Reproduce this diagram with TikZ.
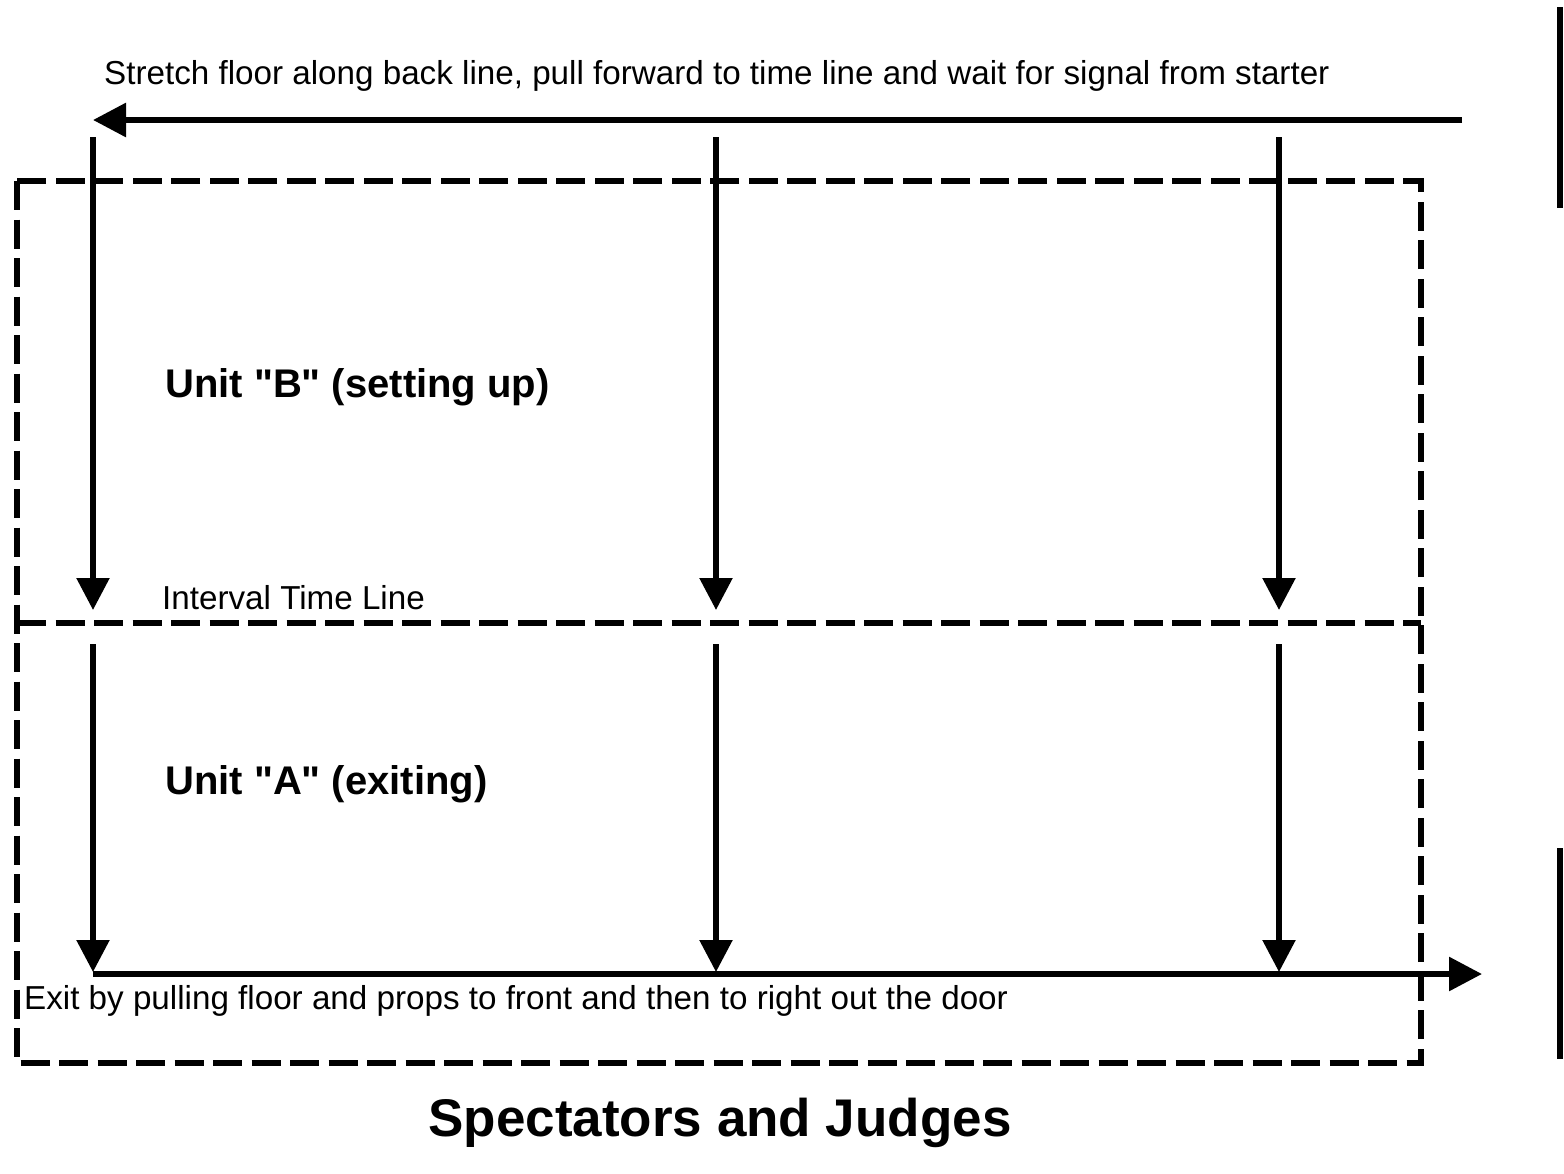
\documentclass[tikz,border=0pt]{standalone}
\usepackage{fontspec}
\setmainfont{Liberation Sans}
\usetikzlibrary{arrows.meta}
\begin{document}
\begin{tikzpicture}[x=1pt,y=-1pt,
  bar/.style={line width=6pt},
  harrow/.style={line width=6pt,-{Triangle[length=33pt,width=33pt]}},
  varrow/.style={line width=5.5pt,-{Triangle[length=32pt,width=32pt]}},
  dashbox/.style={line width=6pt,dash pattern=on 29pt off 9.5pt},
  lbl/.style={anchor=base west,inner sep=0pt,font=\fontsize{33.2}{40}\selectfont},
  blbl/.style={anchor=base west,inner sep=0pt,font=\fontsize{40}{48}\selectfont\bfseries},
  title/.style={anchor=base,inner sep=0pt,font=\fontsize{53}{62}\selectfont\bfseries}]
\useasboundingbox[fill=white] (0,0) rectangle (1564,1173);
% frame
\draw[dashbox] (17,181) rectangle (1421,1063);
\coordinate (ml) at (17,623);
\coordinate (mr) at (1421,623);
\draw[dashbox] (ml) -- (mr);
% side bars
\coordinate (b1t) at (1560,7);
\coordinate (b1b) at (1560,208);
\coordinate (b2t) at (1560,848);
\coordinate (b2b) at (1560,1059);
\draw[bar] (b1t) -- (b1b);
\draw[bar] (b2t) -- (b2b);
% top arrow
\coordinate (ts) at (1462,120);
\coordinate (te) at (93,120);
\draw[harrow] (ts) -- (te);
% vertical arrows
\foreach \x/\n in {93/a,716/b,1279/c}{
  \coordinate (u\n s) at (\x,137);
  \coordinate (u\n e) at (\x,610);
  \coordinate (l\n s) at (\x,644);
  \coordinate (l\n e) at (\x,972);
  \draw[varrow] (u\n s) -- (u\n e);
  \draw[varrow] (l\n s) -- (l\n e);
}
% bottom arrow
\coordinate (bs) at (93,974);
\coordinate (be) at (1482,974);
\draw[harrow] (bs) -- (be);
% texts
\node[lbl] (t1) at (104,84) {Stretch floor along back line, pull forward to time line and wait for signal from starter};
\node[blbl] (uB) at (165,397) {Unit \textquotedbl B\textquotedbl{} (setting up)};
\node[lbl] (itl) at (162,609) {Interval Time Line};
\node[blbl] (uA) at (165,794) {Unit \textquotedbl A\textquotedbl{} (exiting)};
\node[lbl] (ex) at (24,1009) {Exit by pulling floor and props to front and then to right out the door};
\node[title] (sj) at (720,1136) {Spectators and Judges};
\end{tikzpicture}
\end{document}
